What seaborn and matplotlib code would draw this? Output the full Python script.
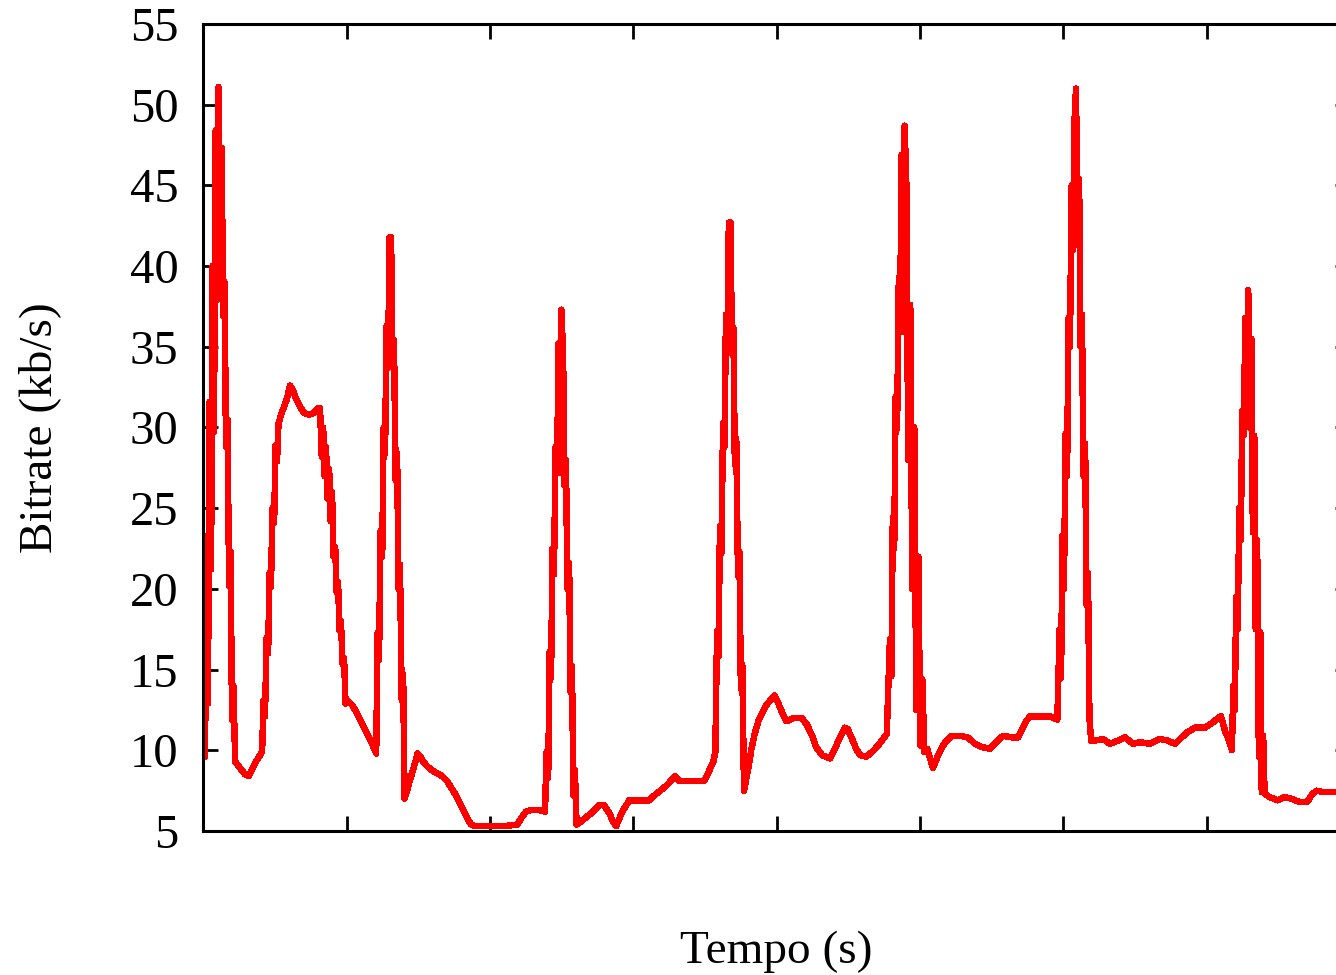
import pandas as pd
import matplotlib
matplotlib.use('Agg')
import matplotlib.pyplot as plt
import seaborn as sns

# Bitrate trace (time in s, bitrate in kb/s)
tempo_s = [
    0.6, 1.1, 1.6, 2.2, 2.7, 3.2, 3.7, 4.3, 4.8, 5.3, 5.8, 6.4, 6.9, 7.4, 7.9, 8.4, 9.0, 9.5, 10.0, 10.5, 11.1,
    12.8, 14.6, 15.9, 17.0, 18.4, 19.4, 20.5, 21.0, 21.5, 22.1, 22.6, 23.1, 23.6, 24.1, 24.7, 25.2, 25.7, 26.2,
    27.1, 28.2, 29.2, 30.2, 31.3, 32.3, 33.7, 35.1, 36.9, 38.6, 40.0, 40.7,
    41.3, 41.8, 42.3, 42.8, 43.3, 43.9, 44.4, 44.9, 45.4, 46.0, 46.5, 47.0, 47.5, 48.0, 48.6, 49.1, 49.6, 50.1,
    51.9, 53.3, 54.7, 56.1, 57.5, 58.9, 60.3,
    60.8, 61.3, 61.8, 62.4, 62.9, 63.4, 63.9, 64.4, 65.0, 65.5, 66.0, 66.5, 67.1, 67.6, 68.1, 68.6, 69.2, 69.7, 70.2,
    71.1, 72.0, 73.0, 74.0, 74.7, 75.8, 76.7, 78.1, 79.5, 81.2, 83.3, 85.0, 86.4, 87.8, 89.2, 90.6, 92.0, 93.4,
    94.8, 99.7, 104.9, 109.5, 110.9, 112.6, 114.3, 117.1, 119.2,
    119.7, 120.3, 120.8, 121.3, 121.8, 122.3, 122.9, 123.4, 123.9, 124.4, 124.9, 125.5, 126.0, 126.5, 127.0,
    127.6, 128.1, 128.6, 129.1, 129.6, 130.2,
    131.8, 133.9, 136.0, 138.1, 139.8, 141.6, 142.9, 144.0, 145.4, 146.8, 148.6, 152.1, 155.6, 157.3, 159.4,
    161.5, 163.6, 164.6, 166.0, 171.2, 174.7, 175.8, 176.9, 177.9,
    178.6, 179.2, 179.7, 180.2, 180.7, 181.3, 181.8, 182.3, 182.8, 183.3, 183.9, 184.4, 184.9, 185.4, 185.9,
    186.5, 187.0, 187.5, 188.0, 188.6,
    190.2, 191.2, 192.3, 193.6, 195.0, 196.4, 197.8, 199.2, 200.6, 202.0, 203.4, 205.9, 208.7, 210.5, 212.4,
    213.7, 215.8, 218.6, 220.3, 222.1, 223.8, 224.8, 226.3, 227.7, 229.1, 231.2, 233.3, 235.4, 237.1, 238.4,
    239.5, 240.0, 240.5, 241.0, 241.5, 242.0, 242.6, 243.1, 243.6, 244.1, 244.6, 245.2, 245.9, 246.6, 247.3,
    248.0, 248.7, 249.4, 250.1, 250.8, 251.5,
    252.5, 253.5, 254.5, 255.6, 256.9, 258.7, 261.1, 263.9, 266.7, 269.2, 271.6, 274.4, 276.5, 279.0, 282.1,
    284.2, 285.6, 287.0, 288.4, 291.9, 295.4, 297.9,
    298.7, 299.2, 299.7, 300.2, 300.8, 301.3, 301.8, 302.3, 302.9, 303.4, 303.9, 304.4, 304.9, 305.5, 306.0,
    306.5, 307.0, 307.6, 308.1, 308.6, 309.1, 309.7,
    311.0, 313.8, 316.3, 319.1, 321.5, 324.3, 326.7, 330.2, 333.7, 336.5, 338.9, 340.7, 343.1, 345.9, 349.4,
    351.9, 354.0, 355.0, 356.4, 357.8, 358.8,
    359.3, 359.8, 360.3, 360.8, 361.4, 361.9, 362.4, 362.9, 363.5, 364.0, 364.5, 365.0, 365.6, 366.1, 366.6,
    367.1, 367.6, 368.2, 368.7, 369.2, 369.7, 370.2,
    372.0, 374.7, 377.0, 379.5, 382.3, 385.1, 386.5, 388.2, 390.9, 394.8, 400.0,
]
bitrate_kbps = [
    9.6, 23.3, 12.9, 31.6, 21.2, 40.0, 29.7, 48.4, 37.9, 51.1, 38.0, 47.3, 36.9, 39.0, 28.8, 30.5, 20.2, 22.3, 11.9, 14.0, 9.3,
    8.9, 8.5, 8.4, 8.8, 9.3, 9.6, 9.9, 13.1, 12.1, 17.0, 16.0, 21.0, 20.1, 25.0, 24.1, 28.9, 27.9, 30.2,
    30.8, 31.3, 31.8, 32.6, 32.3, 31.8, 31.3, 30.9, 30.8, 30.9, 31.2, 31.2,
    28.2, 30.0, 27.0, 28.8, 25.6, 27.4, 24.2, 26.0, 22.0, 22.6, 19.8, 20.4, 17.4, 18.0, 15.3, 15.7, 12.9, 13.1,
    12.8, 12.4, 11.9, 11.4, 10.9, 10.4, 9.8,
    17.3, 15.6, 23.6, 22.0, 30.0, 28.4, 36.3, 33.7, 41.8, 41.8, 33.7, 35.4, 26.7, 28.4, 20.0, 21.5, 13.1, 14.7, 7.0,
    7.5, 8.1, 8.7, 9.3, 9.8, 9.6, 9.3, 9.0, 8.8, 8.6, 8.4, 8.1, 7.7, 7.3, 6.8, 6.3, 5.8, 5.4,
    5.3, 5.3, 5.3, 5.4, 5.8, 6.2, 6.3, 6.3, 6.2,
    9.9, 8.3, 16.1, 14.5, 22.5, 20.9, 28.8, 27.2, 35.2, 27.2, 37.3, 34.5, 26.4, 28.0, 20.0,
    21.6, 13.6, 15.2, 7.2, 8.8, 5.4,
    5.6, 5.9, 6.2, 6.6, 6.6, 6.1, 5.6, 5.3, 5.9, 6.4, 6.9, 6.9, 6.9, 7.2, 7.5,
    7.8, 8.2, 8.4, 8.1, 8.1, 8.1, 8.5, 8.9, 9.3,
    9.9, 17.4, 15.8, 23.9, 22.2, 30.3, 28.8, 37.0, 34.6, 42.7, 42.7, 34.6, 36.2, 27.7, 29.3,
    20.8, 22.3, 13.8, 15.3, 7.5,
    9.0, 10.1, 11.0, 11.8, 12.3, 12.8, 13.1, 13.4, 12.9, 12.3, 11.8, 12.0, 12.0, 11.6, 10.9,
    10.2, 9.7, 9.5, 10.1, 10.8, 11.4, 11.3, 10.7, 10.1, 9.7, 9.6, 9.9, 10.3, 10.7, 11.0,
    16.9, 14.6, 24.4, 22.5, 31.9, 29.9, 39.3, 37.6, 46.9, 35.9, 48.7, 45.5, 28.0, 37.6, 20.0,
    30.0, 12.5, 22.0, 10.3, 14.4, 9.9,
    10.1, 9.5, 8.9, 9.4, 9.9, 10.5, 10.9, 10.9, 10.8, 10.4, 10.2, 10.1, 10.5, 10.9, 10.8,
    10.8, 11.3, 11.8, 12.1, 12.1, 12.1, 11.9,
    17.5, 14.5, 23.3, 20.0, 29.6, 27.0, 36.8, 35.0, 45.0, 41.0, 49.0, 51.0, 43.5, 45.4, 35.0,
    37.0, 27.0, 29.0, 19.0, 21.0, 12.0, 10.6,
    10.6, 10.7, 10.4, 10.6, 10.8, 10.4, 10.5, 10.4, 10.7, 10.6, 10.4, 10.7, 11.1, 11.4, 11.4,
    11.7, 12.0, 12.1, 11.2, 10.6, 10.0,
    14.0, 12.5, 19.5, 17.5, 25.0, 23.0, 31.0, 29.5, 36.8, 34.5, 38.5, 30.0, 35.5, 23.5, 29.5,
    17.5, 23.0, 9.6, 17.3, 7.4, 10.9, 7.3,
    7.1, 6.9, 7.1, 7.0, 6.8, 6.8, 7.2, 7.5, 7.4, 7.4, 7.4,
]

Y_TICKS = list(range(5, 60, 5))
X_TICKS = list(range(0, 401, 50))
X_LIMITS = (0, 400)
Y_LIMITS = (5, 55)
X_LABEL = 'Tempo (s)'
Y_LABEL = 'Bitrate (kb/s)'

sns.set_style('ticks')
plt.rcParams['font.family'] = ['Liberation Serif', 'DejaVu Serif']
plt.rcParams['text.color'] = 'black'
plt.rcParams['axes.labelcolor'] = 'black'

df = pd.DataFrame({'tempo': tempo_s, 'bitrate': bitrate_kbps})

fig = plt.figure(figsize=(13.36, 9.75), dpi=100)
# right edge of the frame sits just past the image border, as in the reference
ax = fig.add_axes([0.1522, 0.1477, 0.8583, 0.8277])

sns.lineplot(data=df, x='tempo', y='bitrate', color='#ff0000', linewidth=3.9,
             estimator=None, sort=False, legend=False, antialiased=False, ax=ax)

ax.set_xlim(X_LIMITS)
ax.set_ylim(Y_LIMITS)
ax.set_xticks(X_TICKS)
ax.set_xticklabels([])
ax.set_yticks(Y_TICKS)
ax.tick_params(direction='in', length=11, width=2, top=True, right=True,
               labelsize=35, pad=18, colors='black')
for spine in ax.spines.values():
    spine.set_visible(True)
    spine.set_linewidth(2.2)
    spine.set_color('black')
ax.grid(False)

ax.set_xlabel(X_LABEL, fontsize=34, color='black')
ax.set_ylabel(Y_LABEL, fontsize=34, color='black')
ax.xaxis.set_label_coords(0.5, -(952 - 831) / 807)
ax.xaxis.label.set_va('center')
ax.yaxis.set_label_coords(-0.1424, 0.5)
ax.yaxis.label.set_va('center')

fig.savefig('out.png', dpi=100)
